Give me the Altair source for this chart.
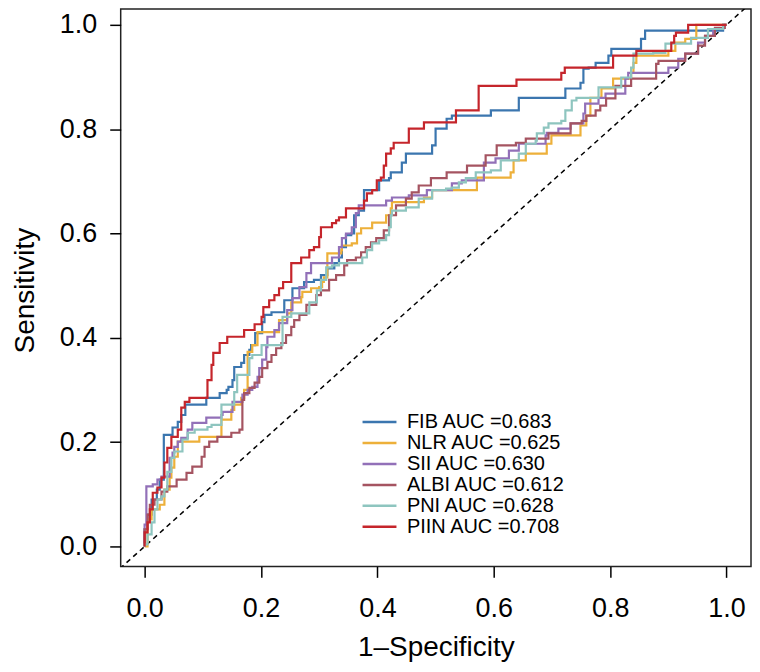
import altair as alt
import pandas as pd

# ROC curve vertices (1-Specificity, Sensitivity), step-after order
fib_x = [0, 0.000, 0.005, 0.012, 0.021, 0.026, 0.033, 0.048, 0.057, 0.063, 0.070, 0.106, 0.129, 0.141, 0.144, 0.151, 0.154, 0.166, 0.171, 0.180, 0.183, 0.190, 0.202, 0.206, 0.218, 0.240, 0.254, 0.274, 0.291, 0.303, 0.314, 0.326, 0.334, 0.339, 0.346, 0.355, 0.360, 0.368, 0.377, 0.403, 0.420, 0.423, 0.442, 0.449, 0.494, 0.500, 0.519, 0.528, 0.595, 0.643, 0.723, 0.749, 0.754, 0.763, 0.775, 0.797, 0.802, 0.853, 0.860, 0.994, 1.0]
fib_y = [0, 0.033, 0.061, 0.090, 0.109, 0.128, 0.214, 0.228, 0.239, 0.252, 0.272, 0.285, 0.294, 0.300, 0.306, 0.319, 0.344, 0.352, 0.367, 0.377, 0.386, 0.409, 0.430, 0.444, 0.449, 0.472, 0.495, 0.507, 0.511, 0.520, 0.533, 0.543, 0.554, 0.574, 0.597, 0.600, 0.635, 0.644, 0.683, 0.702, 0.706, 0.717, 0.736, 0.753, 0.769, 0.801, 0.820, 0.826, 0.836, 0.860, 0.878, 0.889, 0.916, 0.918, 0.927, 0.941, 0.954, 0.973, 0.989, 1.000, 1.0]

nlr_x = [0, 0.005, 0.012, 0.026, 0.034, 0.043, 0.046, 0.051, 0.057, 0.094, 0.132, 0.149, 0.154, 0.166, 0.171, 0.177, 0.185, 0.194, 0.231, 0.245, 0.252, 0.269, 0.271, 0.286, 0.300, 0.305, 0.308, 0.314, 0.338, 0.339, 0.356, 0.365, 0.372, 0.391, 0.415, 0.423, 0.425, 0.480, 0.494, 0.571, 0.629, 0.634, 0.655, 0.691, 0.699, 0.749, 0.759, 0.766, 0.785, 0.805, 0.836, 0.840, 0.845, 0.900, 0.912, 0.929, 0.948, 1.0]
nlr_y = [0, 0.052, 0.071, 0.080, 0.109, 0.132, 0.151, 0.172, 0.201, 0.210, 0.243, 0.262, 0.272, 0.285, 0.300, 0.373, 0.386, 0.411, 0.434, 0.447, 0.468, 0.478, 0.488, 0.495, 0.497, 0.507, 0.516, 0.562, 0.568, 0.577, 0.581, 0.600, 0.610, 0.621, 0.635, 0.648, 0.660, 0.669, 0.683, 0.707, 0.717, 0.740, 0.753, 0.772, 0.788, 0.807, 0.826, 0.860, 0.878, 0.897, 0.908, 0.927, 0.941, 0.950, 0.966, 0.973, 1.000, 1.0]

sii_x = [0, 0.000, 0.003, 0.014, 0.022, 0.029, 0.043, 0.048, 0.051, 0.057, 0.063, 0.074, 0.082, 0.106, 0.132, 0.134, 0.151, 0.168, 0.177, 0.185, 0.194, 0.197, 0.202, 0.209, 0.211, 0.223, 0.231, 0.245, 0.254, 0.266, 0.278, 0.286, 0.322, 0.334, 0.339, 0.346, 0.356, 0.363, 0.368, 0.415, 0.425, 0.454, 0.485, 0.528, 0.545, 0.583, 0.603, 0.626, 0.643, 0.689, 0.691, 0.711, 0.732, 0.754, 0.757, 0.780, 0.792, 0.826, 0.831, 0.900, 0.917, 0.929, 0.951, 0.963, 0.977, 0.994, 1.0]
sii_y = [0, 0.042, 0.115, 0.119, 0.128, 0.134, 0.170, 0.180, 0.191, 0.201, 0.208, 0.224, 0.237, 0.247, 0.252, 0.258, 0.277, 0.291, 0.300, 0.306, 0.325, 0.342, 0.358, 0.382, 0.402, 0.415, 0.428, 0.453, 0.476, 0.497, 0.524, 0.543, 0.554, 0.574, 0.591, 0.600, 0.612, 0.639, 0.654, 0.663, 0.669, 0.673, 0.683, 0.696, 0.702, 0.736, 0.744, 0.759, 0.772, 0.788, 0.793, 0.801, 0.811, 0.830, 0.849, 0.860, 0.868, 0.897, 0.908, 0.918, 0.935, 0.945, 0.966, 0.979, 0.992, 1.000, 1.0]

albi_x = [0, 0.000, 0.005, 0.009, 0.017, 0.029, 0.039, 0.055, 0.072, 0.082, 0.098, 0.103, 0.111, 0.125, 0.149, 0.163, 0.168, 0.171, 0.180, 0.189, 0.197, 0.202, 0.211, 0.218, 0.226, 0.235, 0.243, 0.252, 0.257, 0.266, 0.278, 0.295, 0.303, 0.317, 0.329, 0.343, 0.348, 0.363, 0.372, 0.380, 0.389, 0.398, 0.411, 0.420, 0.432, 0.449, 0.459, 0.471, 0.492, 0.519, 0.554, 0.586, 0.605, 0.638, 0.655, 0.694, 0.732, 0.751, 0.759, 0.775, 0.783, 0.793, 0.809, 0.836, 0.879, 0.883, 0.929, 0.951, 0.963, 0.980, 0.997, 1.0]
albi_y = [0, 0.033, 0.061, 0.080, 0.090, 0.105, 0.115, 0.128, 0.141, 0.153, 0.172, 0.191, 0.201, 0.210, 0.218, 0.224, 0.281, 0.294, 0.304, 0.314, 0.325, 0.342, 0.354, 0.367, 0.380, 0.390, 0.405, 0.421, 0.434, 0.444, 0.463, 0.482, 0.491, 0.511, 0.520, 0.539, 0.549, 0.554, 0.564, 0.574, 0.583, 0.591, 0.606, 0.635, 0.654, 0.667, 0.679, 0.692, 0.706, 0.717, 0.730, 0.750, 0.769, 0.774, 0.782, 0.792, 0.811, 0.816, 0.826, 0.836, 0.845, 0.859, 0.883, 0.897, 0.925, 0.931, 0.945, 0.960, 0.979, 0.994, 1.000, 1.0]

pni_x = [0, 0.000, 0.005, 0.012, 0.017, 0.022, 0.029, 0.034, 0.039, 0.046, 0.051, 0.065, 0.074, 0.086, 0.108, 0.115, 0.132, 0.154, 0.159, 0.180, 0.185, 0.201, 0.237, 0.252, 0.283, 0.296, 0.303, 0.312, 0.322, 0.334, 0.374, 0.382, 0.391, 0.403, 0.415, 0.420, 0.423, 0.425, 0.449, 0.471, 0.494, 0.518, 0.528, 0.540, 0.552, 0.569, 0.595, 0.612, 0.643, 0.655, 0.672, 0.674, 0.686, 0.694, 0.716, 0.723, 0.734, 0.742, 0.780, 0.819, 0.836, 0.840, 0.874, 0.895, 0.939, 0.968, 0.994, 1.0]
pni_y = [0, 0.004, 0.023, 0.046, 0.071, 0.090, 0.096, 0.109, 0.143, 0.170, 0.182, 0.205, 0.218, 0.224, 0.229, 0.233, 0.272, 0.296, 0.329, 0.361, 0.367, 0.386, 0.440, 0.447, 0.468, 0.491, 0.511, 0.535, 0.539, 0.543, 0.554, 0.568, 0.581, 0.587, 0.597, 0.612, 0.635, 0.644, 0.650, 0.667, 0.683, 0.686, 0.688, 0.698, 0.706, 0.717, 0.721, 0.740, 0.753, 0.772, 0.778, 0.792, 0.803, 0.811, 0.816, 0.836, 0.855, 0.860, 0.880, 0.899, 0.918, 0.945, 0.946, 0.964, 0.975, 0.992, 1.000, 1.0]

piin_x = [0, 0.000, 0.005, 0.009, 0.014, 0.022, 0.029, 0.034, 0.039, 0.046, 0.057, 0.063, 0.069, 0.077, 0.108, 0.115, 0.118, 0.129, 0.142, 0.171, 0.189, 0.201, 0.204, 0.214, 0.223, 0.231, 0.238, 0.252, 0.269, 0.283, 0.291, 0.300, 0.303, 0.322, 0.329, 0.334, 0.346, 0.377, 0.382, 0.391, 0.399, 0.406, 0.411, 0.415, 0.423, 0.428, 0.454, 0.480, 0.535, 0.574, 0.639, 0.716, 0.722, 0.805, 0.845, 0.905, 0.910, 0.913, 0.934, 1.0]
piin_y = [0, 0.027, 0.046, 0.071, 0.103, 0.113, 0.132, 0.161, 0.189, 0.210, 0.224, 0.266, 0.277, 0.285, 0.319, 0.348, 0.371, 0.390, 0.402, 0.415, 0.426, 0.440, 0.459, 0.472, 0.482, 0.495, 0.507, 0.543, 0.554, 0.568, 0.574, 0.593, 0.612, 0.620, 0.625, 0.631, 0.648, 0.663, 0.677, 0.683, 0.702, 0.707, 0.730, 0.753, 0.763, 0.774, 0.801, 0.813, 0.836, 0.883, 0.895, 0.908, 0.918, 0.941, 0.950, 0.966, 0.979, 0.985, 1.000, 1.0]

labels = ["FIB AUC =0.683", "NLR AUC =0.625", "SII AUC =0.630",
          "ALBI AUC =0.612", "PNI AUC =0.628", "PIIN AUC =0.708"]
colors = ["#3B76AF", "#EDB03A", "#9270B8", "#A55461", "#8EC5BF", "#C5252B"]
series_x = [fib_x, nlr_x, sii_x, albi_x, pni_x, piin_x]
series_y = [fib_y, nlr_y, sii_y, albi_y, pni_y, piin_y]

ticks = [0.0, 0.2, 0.4, 0.6, 0.8, 1.0]
diag = [-0.1, 1.1]

rows = []
for lab, xs, ys in zip(labels, series_x, series_y):
    assert len(xs) == len(ys), lab
    for i, (a, b) in enumerate(zip(xs, ys)):
        rows.append({"series": lab, "fpr": a, "tpr": b, "idx": i})
df = pd.DataFrame(rows)
ddf = pd.DataFrame({"x": [diag[0]], "y": [diag[0]], "x2": [diag[1]], "y2": [diag[1]]})

font = "Liberation Sans"
xscale = alt.Scale(domain=[-0.0411, 1.042], nice=False, zero=False)
yscale = alt.Scale(domain=[-0.0382, 1.0306], nice=False, zero=False)

xaxis = alt.Axis(values=ticks, format=".1f", title="1\u2013Specificity",
                 labelFontSize=27, labelFont=font, labelColor="black",
                 tickColor="black", tickSize=11, tickWidth=1.5, domain=False, grid=False,
                 labelPadding=18, titleFont=font, titleFontSize=28, titleFontWeight="normal",
                 titleColor="black", titleY=89, titleBaseline="alphabetic")
yaxis = alt.Axis(values=ticks, format=".1f", title="Sensitivity",
                 labelFontSize=27, labelFont=font, labelColor="black",
                 tickColor="black", tickSize=11, tickWidth=1.5, domain=False, grid=False,
                 labelPadding=13, titleFont=font, titleFontSize=28, titleFontWeight="normal",
                 titleColor="black", titleX=-87, titleY=282, titleAngle=270,
                 titleBaseline="alphabetic", titleAlign="center")

diagonal = alt.Chart(ddf).mark_rule(clip=True, color="black", strokeWidth=1.5,
                                    strokeDash=[5, 4]).encode(
    x=alt.X("x:Q", scale=xscale, axis=xaxis),
    y=alt.Y("y:Q", scale=yscale, axis=yaxis),
    x2="x2:Q", y2="y2:Q")

lines = alt.Chart(df).mark_line(interpolate="step-after", strokeWidth=2.2, clip=True).encode(
    x=alt.X("fpr:Q", scale=xscale, axis=xaxis),
    y=alt.Y("tpr:Q", scale=yscale, axis=yaxis),
    color=alt.Color("series:N", scale=alt.Scale(domain=labels, range=colors),
                    legend=alt.Legend(title=None, orient="none", legendX=241, legendY=404,
                                      symbolType="stroke", symbolSize=1156,
                                      symbolStrokeWidth=2.5, labelFontSize=20,
                                      labelFont=font, labelColor="black",
                                      clipHeight=20.6, rowPadding=0, padding=0,
                                      labelOffset=9)),
    order="idx:Q")

chart = alt.layer(diagonal, lines).properties(
    width=632, height=559,
    autosize=alt.AutoSizeParams(type="none"),
    padding={"left": 113, "top": 0, "right": 1, "bottom": 97},
).configure_view(stroke="#222222", strokeWidth=1.5)

chart.save("out.html", embed_options={"renderer": "svg", "actions": False})
